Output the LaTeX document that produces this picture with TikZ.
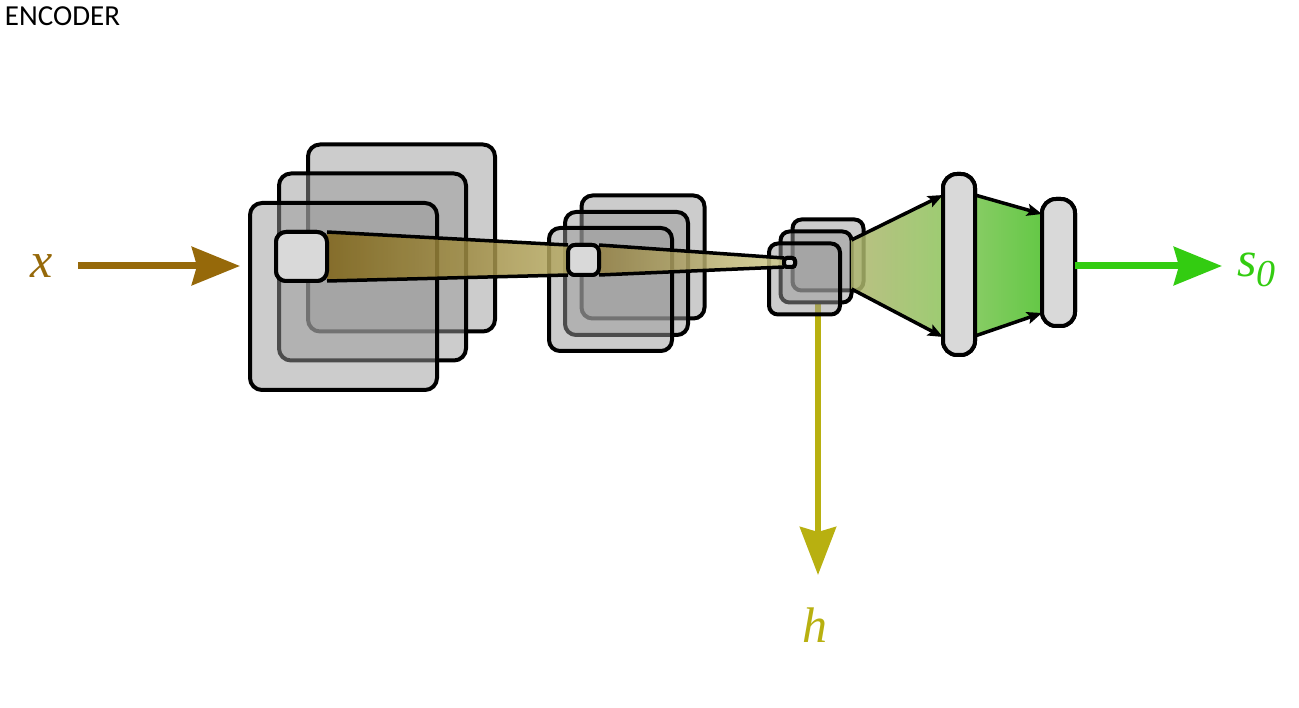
\documentclass[tikz,border=0pt]{standalone}
\usepackage{fontspec}
\newfontfamily\encfont{Carlito}
\newfontfamily\lblfont{Liberation Serif}
\usetikzlibrary{arrows.meta,calc}
\definecolor{sqgray}{gray}{0.6}
\definecolor{lightg}{gray}{0.85}
\definecolor{xbrown}{RGB}{150,105,10}
\definecolor{sgreen}{RGB}{51,204,17}
\definecolor{holive}{RGB}{184,176,16}
\definecolor{beamAl}{RGB}{128,100,22}
\definecolor{beamAr}{RGB}{182,170,100}
\definecolor{beamBl}{RGB}{148,130,68}
\definecolor{beamBr}{RGB}{208,203,140}
\definecolor{trAl}{RGB}{175,180,110}
\definecolor{trAr}{RGB}{140,195,90}
\definecolor{trBl}{RGB}{135,204,100}
\definecolor{trBr}{RGB}{100,200,70}
\begin{document}
\begin{tikzpicture}[x=1pt,y=-1pt,
  sq/.style={rectangle, draw=black, line width=4pt, fill=sqgray, fill opacity=0.5, inner sep=0pt, outer sep=0pt},
  win/.style={rectangle, draw=black, line width=4pt, fill=lightg, inner sep=0pt, outer sep=0pt},
  barbox/.style={win, rounded corners=14pt},
  beamline/.style={line width=3.5pt, line join=round},
  bigarrow/.style={line width=7pt, -{Stealth[length=48pt,width=38pt,inset=5pt]}},
  smallarrow/.style={line width=3.5pt, -{Stealth[length=15pt,width=12pt,inset=3pt]}},
  lbl/.style={inner sep=0pt, outer sep=0pt}
]
\useasboundingbox (0,0) rectangle (1299,708);

% title
\node[lbl, anchor=base west] (enc) at (5,26) {\encfont\fontsize{29}{30}\selectfont ENCODER};

% h arrow (behind layer 3)
\coordinate (htip) at (818,575);
\coordinate (hstart) at (818,303);
\draw[holive, line width=6pt, -{Stealth[length=48pt,width=36pt,inset=5pt]}] (hstart) -- (htip);

% layer 1
\node[sq, rounded corners=12pt, minimum width=187pt, minimum height=187pt] (L1b) at (401.5,238) {};
\node[sq, rounded corners=12pt, minimum width=187pt, minimum height=187pt] (L1m) at (372.5,267) {};
\node[sq, rounded corners=12pt, minimum width=187pt, minimum height=187pt] (L1f) at (343.5,296.5) {};
% layer 2
\node[sq, rounded corners=11pt, minimum width=123pt, minimum height=123pt] (L2b) at (643,257) {};
\node[sq, rounded corners=11pt, minimum width=123pt, minimum height=123pt] (L2m) at (626.5,273.5) {};
\node[sq, rounded corners=11pt, minimum width=123pt, minimum height=123pt] (L2f) at (610.5,289.5) {};
% layer 3
\node[sq, rounded corners=9pt, minimum width=71pt, minimum height=71pt] (L3b) at (828,255) {};
\node[sq, rounded corners=9pt, minimum width=71pt, minimum height=71pt] (L3m) at (816,267) {};
\node[sq, rounded corners=9pt, minimum width=71pt, minimum height=71pt] (L3f) at (804.5,279) {};

% windows (positions)
\node[win, rounded corners=10pt, minimum width=51pt, minimum height=49pt] (W1) at (301.5,256.5) {};
\node[win, rounded corners=7pt, minimum width=31pt, minimum height=30pt] (W2) at (583.5,260) {};
\node[win, rounded corners=3pt, minimum width=11pt, minimum height=9pt] (W3) at (789.5,262.5) {};

% beams
\shade[left color=beamAl, right color=beamAr, fill opacity=0.85]
  (W1.north east) -- (W2.north west) -- (W2.south west) -- (W1.south east) -- cycle;
\draw[beamline] (W1.north east) -- (W2.north west);
\draw[beamline] (W1.south east) -- (W2.south west);
\shade[left color=beamBl, right color=beamBr, fill opacity=0.85]
  (W2.north east) -- (W3.north west) -- (W3.south west) -- (W2.south east) -- cycle;
\draw[beamline] (W2.north east) -- (W3.north west);
\draw[beamline] (W2.south east) -- (W3.south west);

% windows redrawn on top
\node[win, rounded corners=10pt, minimum width=51pt, minimum height=49pt] at (W1) {};
\node[win, rounded corners=7pt, minimum width=31pt, minimum height=30pt] at (W2) {};
\node[win, rounded corners=3pt, minimum width=11pt, minimum height=9pt] at (W3) {};

% bars
\node[barbox, minimum width=32pt, minimum height=181pt] (B1) at (959,264.5) {};
\node[barbox, minimum width=33pt, minimum height=127pt] (B2) at (1058.5,262.5) {};

% connection points (yshift is in page direction: positive = up)
\coordinate (A1) at ([yshift=27pt]L3m.east);
\coordinate (A2) at ([yshift=-22pt]L3m.east);
\coordinate (B1tl) at ([yshift=-21pt]B1.north west);
\coordinate (B1bl) at ([yshift=18pt]B1.south west);
\coordinate (B1tr) at ([yshift=-21pt]B1.north east);
\coordinate (B1br) at ([yshift=19pt]B1.south east);
\coordinate (B2tl) at ([yshift=-15pt]B2.north west);
\coordinate (B2bl) at ([yshift=13pt]B2.south west);

% green trapezoids
\shade[left color=trAl, right color=trAr, fill opacity=0.85]
  (A1) -- (B1tl) -- (B1bl) -- (A2) -- cycle;
\shade[left color=trBl, right color=trBr]
  (B1tr) -- (B2tl) -- (B2bl) -- (B1br) -- cycle;
\draw[smallarrow] (A1) -- (B1tl);
\draw[smallarrow] (A2) -- (B1bl);
\draw[smallarrow] (B1tr) -- (B2tl);
\draw[smallarrow] (B1br) -- (B2bl);

% bars on top
\node[barbox, minimum width=32pt, minimum height=181pt] at (B1) {};
\node[barbox, minimum width=33pt, minimum height=127pt] at (B2) {};

% input x
\node[lbl, text=xbrown] (xl) at (42,266) {\lblfont\itshape\fontsize{50}{50}\selectfont x};
\draw[xbrown, bigarrow, shorten <=25pt, shorten >=10pt] (xl.east) -- (xl.east -| L1f.west);

% output s0
\coordinate (stip) at (1222,266);
\draw[sgreen, bigarrow] (B2.east |- stip) -- (stip);
\node[lbl, anchor=base west, text=sgreen] (s0) at (1237,277)
  {\lblfont\itshape\fontsize{50}{50}\selectfont s\raisebox{-10pt}{\fontsize{38}{38}\selectfont 0}};

% h label
\node[lbl, anchor=base, text=holive] (hl) at (815,642) {\lblfont\itshape\fontsize{50}{50}\selectfont h};
\end{tikzpicture}
\end{document}
